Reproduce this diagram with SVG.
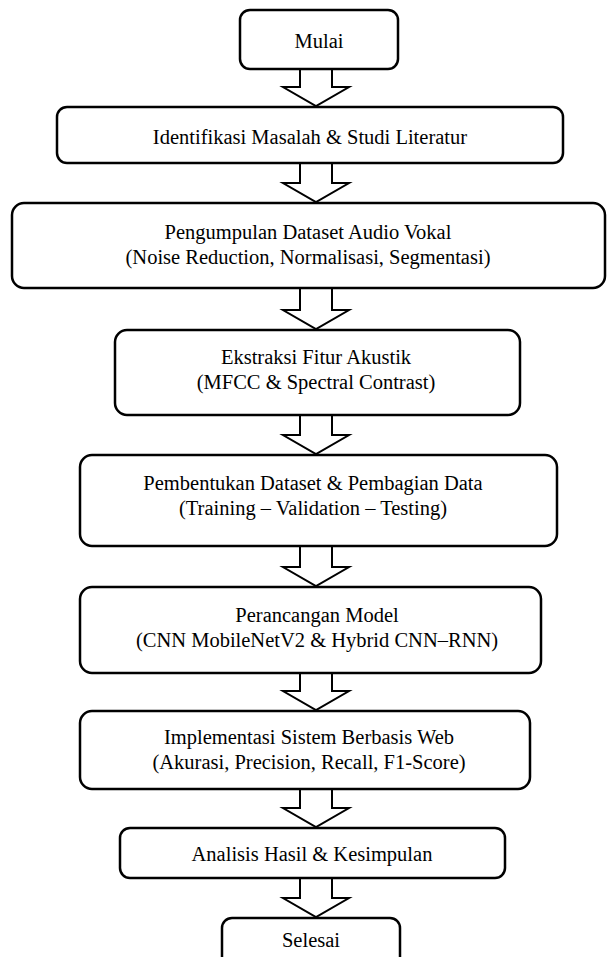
<svg xmlns="http://www.w3.org/2000/svg" width="614" height="957" viewBox="0 0 614 957">
<style>
.box{fill:#fff;stroke:#000;stroke-width:2.5}
.arr{fill:#fff;stroke:#000;stroke-width:2;stroke-linejoin:miter}
text{font-family:"Liberation Serif","Times New Roman",serif;font-size:20.5px;fill:#000;text-anchor:middle}
</style>
<rect width="614" height="957" fill="#fff"/>
<g id="connectors">
<path class="arr" d="M300,69 V87 H283 L316,106 L349,87 H332 V69"/>
<path class="arr" d="M300,163 V183 H283 L316,202 L349,183 H332 V163"/>
<path class="arr" d="M300,288 V310 H283 L316,329 L349,310 H332 V288"/>
<path class="arr" d="M300,415 V435 H283 L316,454 L349,435 H332 V415"/>
<path class="arr" d="M300,546 V567 H283 L316,586 L349,567 H332 V546"/>
<path class="arr" d="M300,673 V691 H283 L316,710 L349,691 H332 V673"/>
<path class="arr" d="M300,789 V808 H283 L316,827 L349,808 H332 V789"/>
<path class="arr" d="M300,878 V898 H283 L316,917 L349,898 H332 V878"/>
</g>
<g id="mulai"><rect class="box" x="240" y="10" width="158" height="59" rx="10"/><text x="319" y="48">Mulai</text></g>
<g id="identifikasi"><rect class="box" x="57" y="107" width="506" height="56" rx="10"/><text x="310" y="144">Identifikasi Masalah &amp; Studi Literatur</text></g>
<g id="pengumpulan"><rect class="box" x="12" y="203" width="593" height="85" rx="12"/><text x="308" y="239">Pengumpulan Dataset Audio Vokal</text><text x="308" y="264">(Noise Reduction, Normalisasi, Segmentasi)</text></g>
<g id="ekstraksi"><rect class="box" x="115" y="330" width="405" height="85" rx="12"/><text x="316" y="364">Ekstraksi Fitur Akustik</text><text x="316" y="389">(MFCC &amp; Spectral Contrast)</text></g>
<g id="pembentukan"><rect class="box" x="80" y="455" width="477" height="91" rx="12"/><text x="313" y="490">Pembentukan Dataset &amp; Pembagian Data</text><text x="313" y="515">(Training – Validation – Testing)</text></g>
<g id="perancangan"><rect class="box" x="80" y="587" width="461" height="86" rx="12"/><text x="317" y="622">Perancangan Model</text><text x="317" y="647">(CNN MobileNetV2 &amp; Hybrid CNN–RNN)</text></g>
<g id="implementasi"><rect class="box" x="80" y="711" width="450" height="78" rx="12"/><text x="309" y="744">Implementasi Sistem Berbasis Web</text><text x="309" y="769">(Akurasi, Precision, Recall, F1-Score)</text></g>
<g id="analisis"><rect class="box" x="120" y="828" width="385" height="50" rx="10"/><text x="312" y="861">Analisis Hasil &amp; Kesimpulan</text></g>
<g id="selesai"><rect class="box" x="222" y="918" width="178" height="55" rx="10"/><text x="311" y="947">Selesai</text></g>
</svg>
